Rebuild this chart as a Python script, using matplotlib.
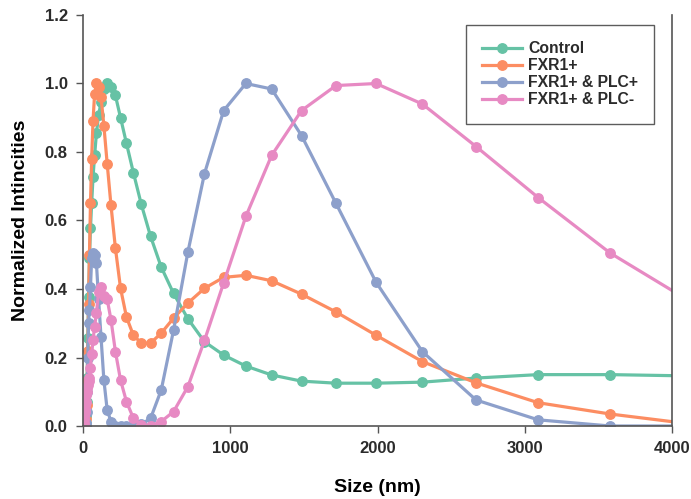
import matplotlib
matplotlib.use("Agg")
import matplotlib.pyplot as plt

plt.rcParams['font.family'] = ['Liberation Sans', 'DejaVu Sans']

# DLS size bins (nm)
size_nm = [5.61, 6.50, 7.53, 8.72, 10.10, 11.70, 13.54, 15.69, 18.17, 21.04,
           24.36, 28.21, 32.67, 37.84, 43.82, 50.75, 58.77, 68.06, 78.82, 91.28,
           105.7, 122.4, 141.8, 164.2, 190.1, 220.2, 255.0, 295.3, 342.0, 396.1,
           458.7, 531.2, 615.1, 712.4, 825.0, 955.4, 1106, 1281, 1484, 1718,
           1990, 2305, 2669, 3091, 3580, 4145]

control = [0.0, 0.0, 0.0, 0.0, 0.0, 0.0, 0.0, 0.0, 0.01, 0.03,
           0.07, 0.14, 0.257, 0.377, 0.49, 0.577, 0.65, 0.727, 0.79, 0.855,
           0.907, 0.945, 0.985, 1.0, 0.99, 0.965, 0.90, 0.825, 0.74, 0.647,
           0.554, 0.464, 0.387, 0.313, 0.246, 0.207, 0.175, 0.149, 0.131, 0.125,
           0.125, 0.128, 0.14, 0.15, 0.15, 0.146]

fxr1 = [0.0, 0.0, 0.0, 0.0, 0.0, 0.0, 0.0, 0.0, 0.0, 0.02,
        0.06, 0.13, 0.22, 0.355, 0.50, 0.65, 0.78, 0.89, 0.97, 1.0,
        0.99, 0.96, 0.877, 0.766, 0.644, 0.519, 0.402, 0.318, 0.265, 0.242,
        0.242, 0.271, 0.315, 0.359, 0.402, 0.434, 0.44, 0.424, 0.385, 0.333,
        0.265, 0.188, 0.126, 0.068, 0.035, 0.005]

fxr1_plc_pos = [0.0, 0.0, 0.0, 0.0, 0.0, 0.0, 0.0, 0.0, 0.0, 0.01,
                0.04, 0.10, 0.20, 0.30, 0.34, 0.405, 0.49, 0.505, 0.50, 0.475,
                0.37, 0.26, 0.134, 0.047, 0.013, 0.0, 0.0, 0.0, 0.0, 0.005,
                0.022, 0.105, 0.28, 0.508, 0.737, 0.921, 1.0, 0.984, 0.848, 0.65,
                0.42, 0.217, 0.076, 0.018, 0.0, 0.0]

fxr1_plc_neg = [0.0, 0.0, 0.01, 0.02, 0.03, 0.04, 0.05, 0.06, 0.07, 0.09,
                0.10, 0.11, 0.12, 0.13, 0.14, 0.17, 0.21, 0.25, 0.29, 0.33,
                0.39, 0.406, 0.38, 0.37, 0.31, 0.217, 0.134, 0.071, 0.023, 0.003,
                0.0, 0.013, 0.042, 0.115, 0.25, 0.418, 0.612, 0.79, 0.921, 0.994,
                1.0, 0.94, 0.816, 0.667, 0.505, 0.358]

series = [
    ("Control", control, "#66c2a5"),
    ("FXR1+", fxr1, "#fc8d62"),
    ("FXR1+ & PLC+", fxr1_plc_pos, "#8da0cb"),
    ("FXR1+ & PLC-", fxr1_plc_neg, "#e78ac3"),
]

fig = plt.figure(figsize=(6.91, 4.99), dpi=100)
ax = fig.add_axes([83 / 691, 1 - 426 / 499, 589 / 691, 411 / 499])

for label, vals, color in series:
    ax.plot(size_nm, vals, color=color, lw=2.3, marker="o", ms=6.8,
            label=label)

ax.set_xlim(0, 4000)
ax.set_ylim(0, 1.2)
ax.set_xticks([0, 1000, 2000, 3000, 4000])
ax.set_yticks([0.0, 0.2, 0.4, 0.6, 0.8, 1.0, 1.2])
ax.set_yticklabels(["0.0", "0.2", "0.4", "0.6", "0.8", "1.0", "1.2"])

text_color = "#2b2b2b"
for lab in ax.get_xticklabels() + ax.get_yticklabels():
    lab.set_fontweight("bold")
    lab.set_fontsize(12)
    lab.set_color(text_color)
ax.tick_params(direction="out", length=5, width=1.0, color="#555555", pad=6)

ax.spines["top"].set_visible(False)
for s in ["left", "bottom", "right"]:
    ax.spines[s].set_color("#555555")
    ax.spines[s].set_linewidth(1.2)

ax.set_xlabel("Size (nm)", fontsize=14, fontweight="bold", color="black",
              labelpad=16)
ax.set_ylabel("Normalized Intincities", fontsize=14, fontweight="bold",
              color="black", labelpad=11)

leg = ax.legend(loc="upper left", bbox_to_anchor=(466 / 691, 1 - 25 / 499),
                bbox_transform=fig.transFigure, frameon=True, fancybox=False,
                fontsize=11.3, handlelength=2.5, labelspacing=0.12,
                borderpad=1.05, handletextpad=0.4, borderaxespad=0)
leg.get_frame().set_edgecolor("#333333")
leg.get_frame().set_linewidth(1.0)
for t in leg.get_texts():
    t.set_fontweight("bold")
    t.set_color(text_color)

fig.savefig("out.png", dpi=100)
